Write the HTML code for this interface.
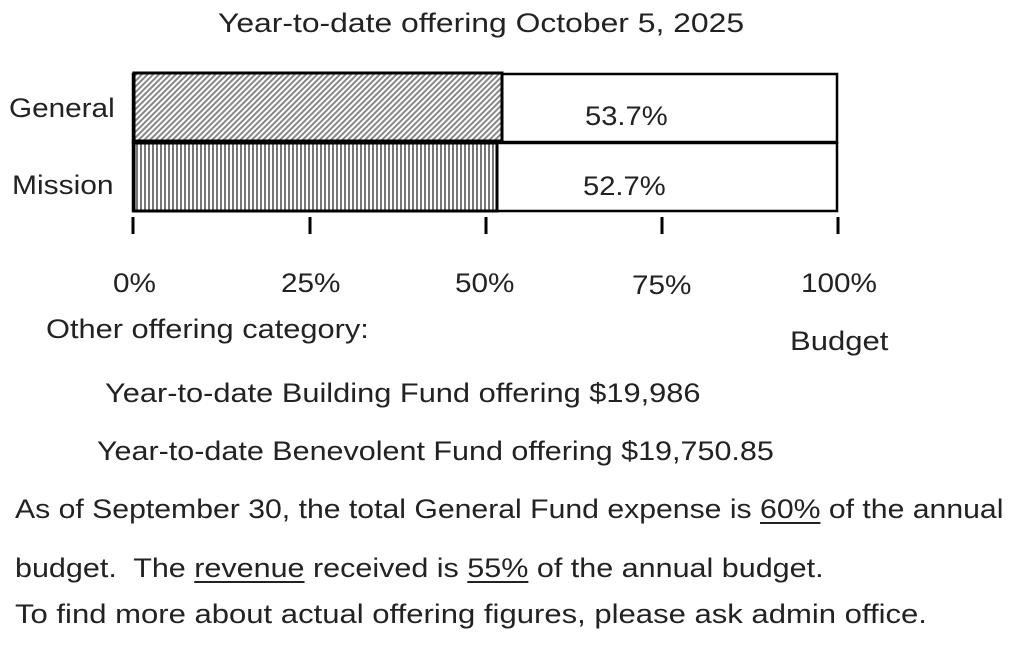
<!DOCTYPE html>
<html><head><style>
body{margin:0;width:1024px;height:645px;background:#fff;overflow:hidden;font-family:"Liberation Sans","Noto Sans CJK JP",sans-serif;color:#222}
.t{position:absolute;white-space:nowrap;font-size:27px;transform-origin:0 0;transform:scaleX(1.13)}
u{text-decoration-thickness:1.5px;text-underline-offset:4px}
</style></head><body>
<svg width="1024" height="645" style="position:absolute;left:0;top:0">
<defs>
<pattern id="d" width="4" height="4" patternUnits="userSpaceOnUse" patternTransform="rotate(45)"><rect width="4" height="4" fill="#fff"/><rect width="2" height="4" fill="#888"/></pattern>
<pattern id="v" width="4" height="4" patternUnits="userSpaceOnUse"><rect width="4" height="4" fill="#fff"/><rect width="2" height="4" fill="#777"/></pattern>
</defs>
<rect x="133" y="74" width="704" height="68" fill="none" stroke="#000" stroke-width="2.5"/>
<rect x="133" y="143" width="704" height="68" fill="none" stroke="#000" stroke-width="2.5"/>
<rect x="134" y="73" width="368" height="68" fill="url(#d)" stroke="#000" stroke-width="3"/>
<rect x="134" y="143" width="363" height="68" fill="url(#v)" stroke="#000" stroke-width="3"/>
<g stroke="#000" stroke-width="3">
<line x1="133" y1="217" x2="133" y2="234"/><line x1="310" y1="217" x2="310" y2="234"/><line x1="486" y1="217" x2="486" y2="234"/><line x1="662" y1="217" x2="662" y2="234"/><line x1="838" y1="217" x2="838" y2="234"/>
</g>
</svg>
<div class="t" style="left:218px;top:8px;transform:scaleX(1.18)">Year-to-date offering October 5, 2025</div>
<div class="t" style="left:9px;top:93px;transform:scaleX(1.1)">General</div>
<div class="t" style="left:12px;top:170px;transform:scaleX(1.11)">Mission</div>
<div class="t" style="left:585px;top:101px;transform:scaleX(1.08)">53.7%</div>
<div class="t" style="left:583px;top:171px;transform:scaleX(1.08)">52.7%</div>
<div class="t" style="left:113px;top:268px;transform:scaleX(1.1)">0%</div>
<div class="t" style="left:281px;top:268px;transform:scaleX(1.1)">25%</div>
<div class="t" style="left:455px;top:268px;transform:scaleX(1.1)">50%</div>
<div class="t" style="left:632px;top:270px;transform:scaleX(1.1)">75%</div>
<div class="t" style="left:801px;top:268px;transform:scaleX(1.1)">100%</div>
<div class="t" style="left:46px;top:314px;transform:scaleX(1.14)">Other offering category:</div>
<div class="t" style="left:790px;top:326px;transform:scaleX(1.15)">Budget</div>
<div class="t" style="left:105px;top:378px;transform:scaleX(1.14)">Year-to-date Building Fund offering $19,986</div>
<div class="t" style="left:97px;top:436px">Year-to-date Benevolent Fund offering $19,750.85</div>
<div class="t" style="left:15px;top:494px;transform:scaleX(1.118)">As of September 30, the total General Fund expense is <u>60%</u> of the annual</div>
<div class="t" style="left:15px;top:553px">budget.&nbsp; The <u>revenue</u> received is <u>55%</u> of the annual budget.</div>
<div class="t" style="left:15px;top:599px;transform:scaleX(1.15)">To find more about actual offering figures, please ask admin office.</div>
</body></html>
